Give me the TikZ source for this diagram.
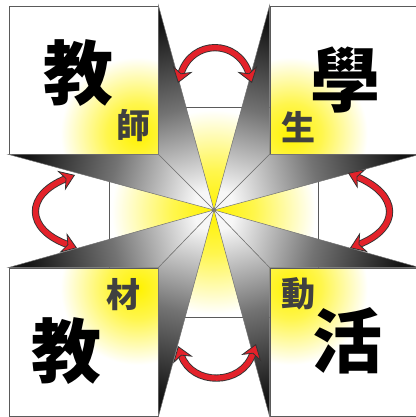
\documentclass[tikz,border=0pt]{standalone}
\usepackage{fontspec}
\newfontfamily\cjk{Noto Sans CJK TC}
\usetikzlibrary{arrows.meta}
\definecolor{arrowred}{HTML}{E3222A}
\definecolor{edgegray}{HTML}{5A5A5A}
\definecolor{glow}{HTML}{FFF200}
\pgfdeclareradialshading{glowfade}{\pgfpointorigin}{color(0bp)=(glow); color(6bp)=(glow!70!white); color(15bp)=(white); color(50bp)=(white)}

\begin{document}
\begin{tikzpicture}[x=1pt,y=-1pt,
  cell/.style={draw=edgegray,line width=0.9pt,fill=white,inner sep=0pt,minimum width=149pt,minimum height=148pt,
    path picture={\shade[shading=glowfade] (path picture bounding box.#1) circle (108pt);}},
  spike/.style={draw=black!55,line width=0.5pt,top color=black!92,bottom color=black!3,middle color=black!55},
  bigchar/.style={font=\cjk\bfseries\fontsize{70}{70}\selectfont,text=black,inner sep=0pt},
  smallchar/.style={font=\cjk\bfseries\fontsize{34}{34}\selectfont,text=black!75,inner sep=0pt},
  exchange/.style={line width=5.4pt,draw=arrowred,<->,
    preaction={draw=black!80,line width=7.2pt,arrows=-,shorten <=10pt,shorten >=10pt}},
  >={Stealth[length=15pt,width=21pt,fill=arrowred,color=black!80,line width=0.8pt]}]
\useasboundingbox (0,0) rectangle (415,417);

% centre square
\node[draw=edgegray,line width=0.9pt,inner sep=0pt,minimum width=209pt,minimum height=210pt,
  path picture={\shade[shading=glowfade] (path picture bounding box.center) circle (170pt);}]
  (hub) at (213.5,212) {};
\coordinate (c) at (214,210);

% four cards
\node[cell=south east] (teacher) at (83.5,80) {};
\node[cell=south west] (student) at (344.5,80) {};
\node[cell=north east] (material) at (83.5,342) {};
\node[cell=north west] (activity) at (344.5,342) {};

% spikes towards the centre
\foreach \tip/\base/\ang in {teacher.north east/teacher.south east/15,
    teacher.south west/teacher.south east/75,
    student.north west/student.south west/-15,
    student.south east/student.south west/-75,
    material.north west/material.north east/105,
    material.south east/material.north east/165,
    activity.north east/activity.north west/-105,
    activity.south west/activity.north west/-165}
  \shade[spike,shading angle=\ang] (\tip) -- (\base) -- (c) -- cycle;

% labels
\node[bigchar] (teacher big) at (78,73) {教};
\node[smallchar] (teacher small) at (133,126) {師};
\node[bigchar] (student big) at (345,80) {學};
\node[smallchar] (student small) at (298,127) {生};
\node[smallchar] (material small) at (123,295) {材};
\node[bigchar] (material big) at (66,351) {教};
\node[smallchar] (activity small) at (298,294) {動};
\node[bigchar] (activity big) at (347,341) {活};

% double arrows
\coordinate (t1) at (178,83); \coordinate (t2) at (252,83);
\coordinate (l1) at (75,175); \coordinate (l2) at (77,248);
\coordinate (r1) at (348,173); \coordinate (r2) at (350,248);
\coordinate (b1) at (178,346); \coordinate (b2) at (256,344);
\draw[exchange] (t1) .. controls (192,39) and (238,39) .. (t2);
\draw[exchange] (l1) .. controls (25,195) and (25,229) .. (l2);
\draw[exchange] (r1) .. controls (400,195) and (400,228) .. (r2);
\draw[exchange] (b1) .. controls (192,386) and (242,386) .. (b2);
\end{tikzpicture}
\end{document}
